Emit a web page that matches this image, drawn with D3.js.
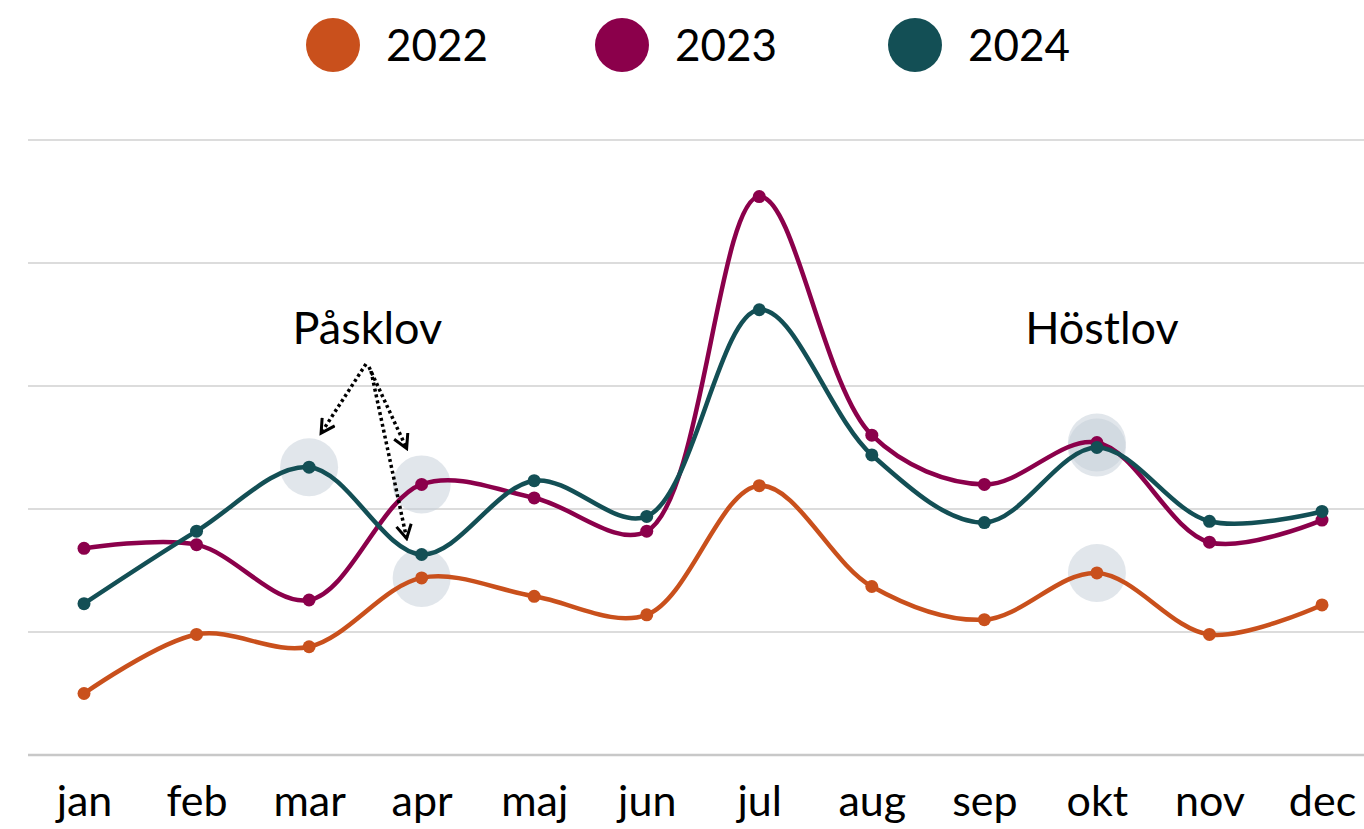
<!DOCTYPE html>
<html>
<head>
<meta charset="utf-8">
<script src="https://cdn.jsdelivr.net/npm/d3@7.9.0/dist/d3.min.js"></script>
<style>
    body { margin: 0; background: #fff; }
    svg { display: block; font-family: Lato, 'Open Sans', sans-serif; }
</style>
</head>
<body>
<div id="chart"></div>
<script>
const months = ['jan', 'feb', 'mar', 'apr', 'maj', 'jun', 'jul', 'aug', 'sep', 'okt', 'nov', 'dec'];
const years = ['2022', '2023', '2024'];
const values2022 = [5.0, 9.8, 8.8, 14.4, 12.9, 11.4, 21.9, 13.7, 11.0, 14.8, 9.8, 12.2];
const values2023 = [16.8, 17.1, 12.6, 22.0, 20.9, 18.2, 45.4, 26.0, 22.0, 25.4, 17.3, 19.1];
const values2024 = [12.3, 18.2, 23.4, 16.3, 22.3, 19.4, 36.2, 24.4, 18.9, 25.0, 19.0, 19.8];
const gridTicks = [0, 10, 20, 30, 40, 50];

// highlighted points (school holidays)
const highlights = [
    ['2024', 'mar'], ['2023', 'apr'], ['2022', 'apr'],
    ['2023', 'okt'], ['2024', 'okt'], ['2022', 'okt'],
];

const colors = { '2022': '#C9501C', '2023': '#8B004B', '2024': '#134F55' };
const seriesValues = { '2022': values2022, '2023': values2023, '2024': values2024 };

const width = 1364;
const height = 829;

const svg = d3.select('#chart')
    .append('svg')
    .attr('width', width)
    .attr('height', height);

const xScale = d3.scalePoint().domain(months).range([84, 1322]);
const yScale = d3.scaleLinear().domain([0, 50]).range([755, 140]);

// gridlines
svg.append('g')
    .selectAll('line')
    .data(gridTicks)
    .join('line')
    .attr('x1', 28)
    .attr('x2', width)
    .attr('y1', (d) => yScale(d))
    .attr('y2', (d) => yScale(d))
    .attr('stroke', (d) => d === 0 ? '#C8C8C8' : '#DCDCDC')
    .attr('stroke-width', (d) => d === 0 ? 2.5 : 2);

// x axis labels
const xAxis = svg.append('g')
    .attr('transform', 'translate(0, 772)')
    .call(d3.axisBottom(xScale).tickSize(0).tickPadding(0));
xAxis.select('.domain').remove();
xAxis.selectAll('text')
    .attr('dy', '1.02em')
    .attr('font-size', 43)
    .attr('font-family', 'Lato, sans-serif')
    .attr('fill', '#000');

// highlight circles
svg.append('g')
    .selectAll('circle')
    .data(highlights)
    .join('circle')
    .attr('cx', (d) => xScale(d[1]))
    .attr('cy', (d) => yScale(seriesValues[d[0]][months.indexOf(d[1])]))
    .attr('r', 29)
    .attr('fill', '#C3CDD8')
    .attr('fill-opacity', 0.5);

const series = years.map((y) => ({
    year: y,
    points: months.map((m, i) => ({ month: m, value: seriesValues[y][i] })),
}));

const line = d3.line()
    .x((d) => xScale(d.month))
    .y((d) => yScale(d.value))
    .curve(d3.curveCatmullRom.alpha(0.5));

const groups = svg.append('g')
    .selectAll('g')
    .data(series)
    .join('g');

groups.append('path')
    .attr('d', (d) => line(d.points))
    .attr('fill', 'none')
    .attr('stroke', (d) => colors[d.year])
    .attr('stroke-width', 4.5);

groups.selectAll('circle')
    .data((d) => d.points.map((p) => ({ ...p, year: d.year })))
    .join('circle')
    .attr('cx', (d) => xScale(d.month))
    .attr('cy', (d) => yScale(d.value))
    .attr('r', 6.5)
    .attr('fill', (d) => colors[d.year]);

// legend
const legend = svg.append('g')
    .selectAll('g')
    .data(years)
    .join('g')
    .attr('transform', (d, i) => `translate(${[333, 622, 915][i]}, 45)`);

legend.append('circle')
    .attr('r', 27)
    .attr('fill', (d) => colors[d]);

legend.append('text')
    .attr('x', 53)
    .attr('y', 16)
    .attr('font-size', 44)
    .text((d) => d);

// annotations
svg.append('defs')
    .append('marker')
    .attr('id', 'arrow')
    .attr('viewBox', '0 0 12 12')
    .attr('refX', 10)
    .attr('refY', 6)
    .attr('markerWidth', 18)
    .attr('markerHeight', 18)
    .attr('markerUnits', 'userSpaceOnUse')
    .attr('orient', 'auto')
    .append('path')
    .attr('d', 'M1,1 L10,6 L1,11')
    .attr('fill', 'none')
    .attr('stroke', '#000')
    .attr('stroke-width', 2);

const labels = [
    { text: 'Påsklov', x: (xScale('mar') + xScale('apr')) / 2 + 2, y: 344 },
    { text: 'Höstlov', x: xScale('okt') + 5, y: 344 },
];

svg.append('g')
    .selectAll('text')
    .data(labels)
    .join('text')
    .attr('x', (d) => d.x)
    .attr('y', (d) => d.y)
    .attr('text-anchor', 'middle')
    .attr('font-size', 45)
    .text((d) => d.text);

const arrows = [
    { from: [366, 364], year: '2024', month: 'mar', dx: 12, dy: -34 },
    { from: [369, 367], year: '2023', month: 'apr', dx: -15, dy: -36 },
    { from: [371, 371], year: '2024', month: 'apr', dx: -15, dy: -16 },
];

svg.append('g')
    .selectAll('line')
    .data(arrows)
    .join('line')
    .attr('x1', (d) => d.from[0])
    .attr('y1', (d) => d.from[1])
    .attr('x2', (d) => xScale(d.month) + d.dx)
    .attr('y2', (d) => yScale(seriesValues[d.year][months.indexOf(d.month)]) + d.dy)
    .attr('stroke', '#000')
    .attr('stroke-width', 3.5)
    .attr('stroke-dasharray', '3,3')
    .attr('marker-end', 'url(#arrow)');
</script>
</body>
</html>
